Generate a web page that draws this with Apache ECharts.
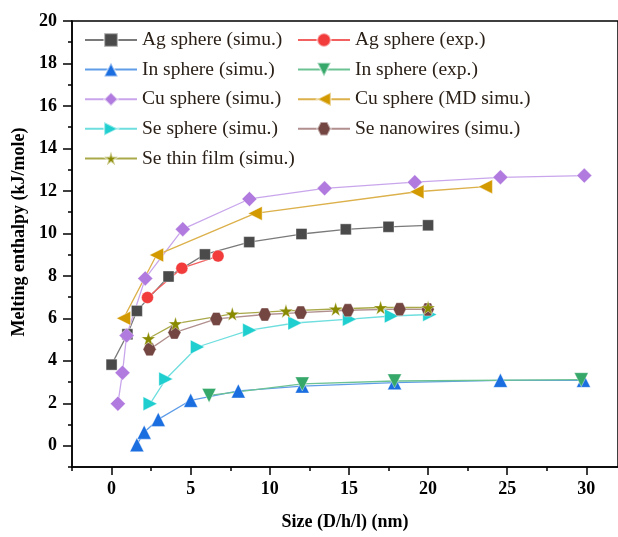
<!DOCTYPE html>
<html>
<head>
<meta charset="utf-8">
<script src="https://cdn.jsdelivr.net/npm/echarts@6/dist/echarts.min.js"></script>
<style>
  html, body { margin: 0; padding: 0; background: #fff; }
  #chart { width: 618px; height: 537px; }
</style>
</head>
<body>
<div id="chart"></div>
<script>
// data
const agSimuX = [0, 1, 1.6, 3.6, 5.9, 8.7, 12, 14.8, 17.5, 20];
const agSimuY = [3.82, 5.25, 6.35, 7.97, 9.01, 9.59, 9.97, 10.19, 10.31, 10.38];
const agExpX = [2.27, 4.44, 6.73];
const agExpY = [6.98, 8.36, 8.93];
const inSimuX = [1.6, 2.06, 2.95, 5.0, 8.01, 12.05, 17.88, 24.57, 29.82];
const inSimuY = [0.05, 0.64, 1.24, 2.14, 2.58, 2.81, 2.97, 3.08, 3.08];
const inExpX = [6.16, 12.05, 17.88, 29.68];
const inExpY = [2.37, 2.91, 3.05, 3.11];
const cuSimuX = [0.4, 0.69, 0.95, 2.13, 4.5, 8.71, 13.46, 19.16, 24.57, 29.87];
const cuSimuY = [1.98, 3.44, 5.19, 7.88, 10.2, 11.62, 12.12, 12.41, 12.64, 12.72];
const cuMdX = [0.76, 2.84, 9.07, 19.29, 23.62];
const cuMdY = [6.0, 8.98, 10.94, 11.96, 12.2];
const seSphX = [2.44, 3.43, 5.43, 8.73, 11.59, 15.04, 17.69, 20.11];
const seSphY = [1.98, 3.14, 4.65, 5.44, 5.78, 5.96, 6.11, 6.18];
const seWireX = [2.4, 3.97, 6.62, 9.68, 11.95, 14.93, 18.2, 19.98];
const seWireY = [4.54, 5.33, 5.97, 6.18, 6.27, 6.38, 6.43, 6.42];
const seFilmX = [2.33, 4.04, 7.63, 11.02, 14.16, 17.0, 20.0];
const seFilmY = [5.05, 5.75, 6.21, 6.35, 6.44, 6.51, 6.51];

const xLabels = [0, 5, 10, 15, 20, 25, 30];
const xMinor = [-2.5, 2.5, 7.5, 12.5, 17.5, 22.5, 27.5];
const yLabels = [0, 2, 4, 6, 8, 10, 12, 14, 16, 18, 20];
const yMinor = [-1, 1, 3, 5, 7, 9, 11, 13, 15, 17, 19];

const zip = (xs, ys) => xs.map((x, i) => [x, ys[i]]);

const STAR = 'path://M50,0 L61,35 L98,35 L68,57 L79,91 L50,70 L21,91 L32,57 L2,35 L39,35 Z';
const HEX = 'path://M25,0 L75,0 L100,43 L75,87 L25,87 L0,43 Z';
const FONT = 'Liberation Serif';

const mkSeries = (name, xs, ys, symbol, size, markerColor, lineColor, rotate) => ({
  name: name,
  type: 'line',
  data: zip(xs, ys),
  symbol: symbol,
  symbolSize: size,
  symbolRotate: rotate || 0,
  showAllSymbol: true,
  itemStyle: { color: markerColor, borderColor: 'rgba(255,255,255,0.5)', borderWidth: 0.8 },
  lineStyle: { color: lineColor, width: 1.3 },
  emphasis: { disabled: true },
  z: 3
});

const chart = echarts.init(document.getElementById('chart'));

const legendBase = {
  orient: 'vertical',
  top: 30,
  itemWidth: 52,
  itemHeight: 17,
  itemGap: 9.6,
  textStyle: { fontFamily: FONT, fontSize: 19.5, color: '#2b2118' },
  padding: 0
};

const tickStyle = { color: '#000', width: 1.5 };
const axisFont = { fontFamily: FONT, fontSize: 18, fontWeight: 'bold', color: '#000' };

const option = {
  animation: false,
  grid: {
    left: 72, right: -1, top: 21, bottom: 70,
    show: true, borderColor: '#000', borderWidth: 1.5
  },
  legend: [
    Object.assign({}, legendBase, {
      left: 84,
      data: ['Ag sphere (simu.)', 'In sphere (simu.)', 'Cu sphere (simu.)', 'Se sphere (simu.)', 'Se thin film (simu.)']
    }),
    Object.assign({}, legendBase, {
      left: 297,
      data: ['Ag sphere (exp.)', 'In sphere (exp.)', 'Cu sphere (MD simu.)', 'Se nanowires (simu.)']
    })
  ],
  xAxis: [
    {
      type: 'value',
      min: -2.5,
      max: 32,
      name: 'Size (D/h/l) (nm)',
      nameLocation: 'middle',
      nameGap: 46,
      nameTextStyle: axisFont,
      axisLine: { show: true, onZero: false, lineStyle: tickStyle },
      axisTick: { show: true, length: 8, customValues: xLabels, lineStyle: tickStyle },
      axisLabel: Object.assign({ customValues: xLabels, margin: 13 }, axisFont),
      splitLine: { show: false }
    },
    {
      type: 'value',
      min: -2.5,
      max: 32,
      position: 'bottom',
      axisLine: { show: false, onZero: false },
      axisTick: { show: true, length: 4, customValues: xMinor, lineStyle: tickStyle },
      axisLabel: { show: false },
      splitLine: { show: false }
    }
  ],
  yAxis: [
    {
      type: 'value',
      min: -1,
      max: 20,
      name: 'Melting enthalpy (kJ/mole)',
      nameLocation: 'middle',
      nameGap: 41,
      nameTextStyle: Object.assign({ padding: [0, 0, 0, 24] }, axisFont),
      axisLine: { show: true, onZero: false, lineStyle: tickStyle },
      axisTick: { show: true, length: 9, customValues: yLabels, lineStyle: tickStyle },
      axisLabel: Object.assign({ customValues: yLabels, margin: 15 }, axisFont),
      splitLine: { show: false }
    },
    {
      type: 'value',
      min: -1,
      max: 20,
      position: 'left',
      axisLine: { show: false, onZero: false },
      axisTick: { show: true, length: 4, customValues: yMinor, lineStyle: tickStyle },
      axisLabel: { show: false },
      splitLine: { show: false }
    }
  ],
  series: [
    mkSeries('Ag sphere (simu.)', agSimuX, agSimuY, 'rect', 11, '#4a4a4a', '#7a7a7a'),
    mkSeries('Ag sphere (exp.)', agExpX, agExpY, 'circle', 12, '#f23b3b', '#f26060'),
    mkSeries('In sphere (simu.)', inSimuX, inSimuY, 'triangle', 14, '#1a6ee0', '#5f9de8'),
    mkSeries('In sphere (exp.)', inExpX, inExpY, 'triangle', 14, '#35a86a', '#6cc293', 180),
    mkSeries('Cu sphere (simu.)', cuSimuX, cuSimuY, 'diamond', 15, '#b07ade', '#c9a6ec'),
    mkSeries('Cu sphere (MD simu.)', cuMdX, cuMdY, 'triangle', 14, '#d39a00', '#dcb04a', 90),
    mkSeries('Se sphere (simu.)', seSphX, seSphY, 'triangle', 14, '#1fcfcf', '#6fdede', -90),
    mkSeries('Se nanowires (simu.)', seWireX, seWireY, HEX, 13, '#744642', '#b08f8e'),
    mkSeries('Se thin film (simu.)', seFilmX, seFilmY, STAR, 14, '#8a8a00', '#a9a94a')
  ]
};

chart.setOption(option);
</script>
</body>
</html>
